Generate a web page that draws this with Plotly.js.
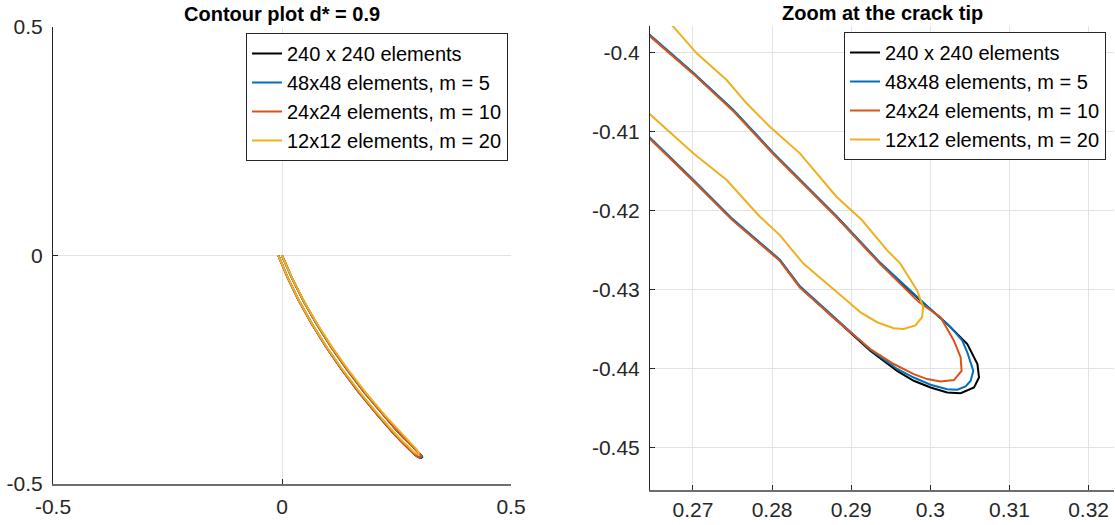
<!DOCTYPE html>
<html>
<head>
<meta charset="utf-8">
<script src="https://cdn.plot.ly/plotly-3.0.1.min.js"></script>
<style>
  html, body { margin: 0; padding: 0; background: #ffffff; }
  #chart { width: 1115px; height: 525px; }
</style>
</head>
<body>
<div id="chart"></div>
<script>
// ---- Data ----
const seriesNames = [
  '240 x 240 elements',
  '48x48 elements, m = 5',
  '24x24 elements, m = 10',
  '12x12 elements, m = 20'
];
const seriesColors = ['#000000', '#0072BD', '#D95319', '#EDB120'];

// 240 x 240 elements (reference contour)
const blackX = [0, 0.0220, 0.0473, 0.0758, 0.1074, 0.1423, 0.1804, 0.2217, 0.2480, 0.26457, 0.27000, 0.27505, 0.28010, 0.28818, 0.29361, 0.29875, 0.30213, 0.30467, 0.30595, 0.30615, 0.30552, 0.30383, 0.30213, 0.30003, 0.29790, 0.29580, 0.29241, 0.28775, 0.28352, 0.28098, 0.27505, 0.27000, 0.26457, 0.2446, 0.2094, 0.1684, 0.1308, 0.0964, 0.0653, 0.0375, 0.0130, -0.008];
const blackY = [0, -0.05, -0.10, -0.15, -0.20, -0.25, -0.30, -0.35, -0.38, -0.39791, -0.40263, -0.40732, -0.41276, -0.42086, -0.42668, -0.43143, -0.43439, -0.43694, -0.43947, -0.44118, -0.44244, -0.44316, -0.44308, -0.44244, -0.44159, -0.44033, -0.43778, -0.43354, -0.42972, -0.42633, -0.42124, -0.41618, -0.41090, -0.39, -0.35, -0.30, -0.25, -0.20, -0.15, -0.10, -0.05, 0];

// 48x48 elements, m = 5
const blueX = [0, 0.0220, 0.0473, 0.0758, 0.1074, 0.1423, 0.1804, 0.2217, 0.2480, 0.26457, 0.27000, 0.27505, 0.28010, 0.28818, 0.29361, 0.29875, 0.30256, 0.30404, 0.30467, 0.30543, 0.30510, 0.30446, 0.30341, 0.30213, 0.30003, 0.29790, 0.29580, 0.29241, 0.28775, 0.28352, 0.28098, 0.27505, 0.27000, 0.26457, 0.2446, 0.2094, 0.1684, 0.1308, 0.0964, 0.0653, 0.0375, 0.0130, -0.008];
const blueY = [0, -0.05, -0.10, -0.15, -0.20, -0.25, -0.30, -0.35, -0.38, -0.39783, -0.40255, -0.40724, -0.41268, -0.42078, -0.42660, -0.43135, -0.43481, -0.43651, -0.43799, -0.44033, -0.44159, -0.44231, -0.44273, -0.44266, -0.44210, -0.44118, -0.44010, -0.43765, -0.43346, -0.42964, -0.42625, -0.42116, -0.41610, -0.41082, -0.39, -0.35, -0.30, -0.25, -0.20, -0.15, -0.10, -0.05, 0];

// 24x24 elements, m = 10
const orangeX = [0, 0.0220, 0.0473, 0.0758, 0.1074, 0.1423, 0.1804, 0.2217, 0.2480, 0.26457, 0.27000, 0.27505, 0.28010, 0.28818, 0.29361, 0.29850, 0.30129, 0.30298, 0.30383, 0.30395, 0.30298, 0.30129, 0.29960, 0.29790, 0.29537, 0.29241, 0.28775, 0.28352, 0.28098, 0.27505, 0.27000, 0.26457, 0.2446, 0.2094, 0.1684, 0.1308, 0.0964, 0.0653, 0.0375, 0.0130, -0.008];
const orangeY = [0, -0.05, -0.10, -0.15, -0.20, -0.25, -0.30, -0.35, -0.38, -0.39799, -0.40271, -0.40740, -0.41284, -0.42094, -0.42676, -0.43160, -0.43354, -0.43651, -0.43863, -0.44033, -0.44151, -0.44168, -0.44138, -0.44075, -0.43947, -0.43757, -0.43362, -0.42980, -0.42641, -0.42132, -0.41626, -0.41098, -0.39, -0.35, -0.30, -0.25, -0.20, -0.15, -0.10, -0.05, 0];

// 12x12 elements, m = 20
const yellowX = [0, 0.0223, 0.0480, 0.0770, 0.1090, 0.1445, 0.1830, 0.2250, 0.2528, 0.26751, 0.27047, 0.27426, 0.27678, 0.27972, 0.28351, 0.28814, 0.29135, 0.29452, 0.29621, 0.29833, 0.29909, 0.29896, 0.29812, 0.29664, 0.29537, 0.29326, 0.29114, 0.28944, 0.28691, 0.28395, 0.28098, 0.27846, 0.27426, 0.27004, 0.26457, 0.2475, 0.2120, 0.1705, 0.1325, 0.0975, 0.0660, 0.0380, 0.0133, -0.008];
const yellowY = [0, -0.05, -0.10, -0.15, -0.20, -0.25, -0.30, -0.35, -0.38, -0.39677, -0.40014, -0.40352, -0.40647, -0.40943, -0.41280, -0.41829, -0.42124, -0.42506, -0.42676, -0.43015, -0.43227, -0.43354, -0.43459, -0.43503, -0.43494, -0.43418, -0.43290, -0.43142, -0.42930, -0.42676, -0.42315, -0.42082, -0.41618, -0.41280, -0.40786, -0.39, -0.35, -0.30, -0.25, -0.20, -0.15, -0.10, -0.05, 0];

// Tick labels
const leftTicks = [-0.5, 0, 0.5];
const leftTickText = ['-0.5', '0', '0.5'];
const rightXTicks = [0.27, 0.28, 0.29, 0.30, 0.31, 0.32];
const rightXTickText = ['0.27', '0.28', '0.29', '0.3', '0.31', '0.32'];
const rightYTicks = [-0.40, -0.41, -0.42, -0.43, -0.44, -0.45];
const rightYTickText = ['-0.4', '-0.41', '-0.42', '-0.43', '-0.44', '-0.45'];

const titles = ['Contour plot d* = 0.9', 'Zoom at the crack tip'];

// ---- Build traces ----
const xs = [blackX, blueX, orangeX, yellowX];
const ys = [blackY, blueY, orangeY, yellowY];
const FONT = 'Liberation Sans, Arial, Helvetica, sans-serif';
const traces = [];
for (let i = 0; i < 4; i++) {
  traces.push({
    type: 'scatter', mode: 'lines', x: xs[i], y: ys[i],
    xaxis: 'x', yaxis: 'y', name: seriesNames[i], legend: 'legend',
    line: { color: seriesColors[i], width: 2 }, hoverinfo: 'skip'
  });
}
for (let i = 0; i < 4; i++) {
  traces.push({
    type: 'scatter', mode: 'lines', x: xs[i], y: ys[i],
    xaxis: 'x2', yaxis: 'y2', name: seriesNames[i], legend: 'legend2',
    line: { color: seriesColors[i], width: 2 }, hoverinfo: 'skip'
  });
}

const W = 1115, H = 525;
function axisCommon() {
  return {
    showgrid: true, gridcolor: '#e3e3e3', gridwidth: 1,
    zeroline: false, showline: true, mirror: false,
    ticks: 'inside', ticklen: 5, tickwidth: 1, tickcolor: '#262626',
    tickfont: { family: FONT, size: 21, color: '#262626' },
    tickmode: 'array', fixedrange: true
  };
}
const legendCommon = {
  bgcolor: '#ffffff', bordercolor: '#262626', borderwidth: 1,
  font: { family: FONT, size: 20, color: '#000000' },
  xanchor: 'right', yanchor: 'top', tracegroupgap: 0, itemwidth: 30
};

const layout = {
  width: W, height: H,
  margin: { l: 0, r: 0, t: 0, b: 0 },
  paper_bgcolor: '#ffffff', plot_bgcolor: '#ffffff',
  showlegend: true,
  xaxis: Object.assign(axisCommon(), {
    domain: [53 / W, 511 / W], range: [-0.5, 0.5], anchor: 'y',
    tickvals: leftTicks, ticktext: leftTickText,
    linecolor: '#6e6e6e', linewidth: 2, ticklabelstandoff: 3
  }),
  yaxis: Object.assign(axisCommon(), {
    domain: [(H - 484) / H, (H - 27) / H], range: [-0.5, 0.5], anchor: 'x',
    tickvals: leftTicks, ticktext: leftTickText,
    linecolor: '#262626', linewidth: 1, ticklabelstandoff: 5
  }),
  xaxis2: Object.assign(axisCommon(), {
    domain: [650 / W, 1114 / W], range: [0.26457, 0.32321], anchor: 'y2',
    tickvals: rightXTicks, ticktext: rightXTickText,
    linecolor: '#6e6e6e', linewidth: 2, ticklabelstandoff: 0
  }),
  yaxis2: Object.assign(axisCommon(), {
    domain: [(H - 490) / H, (H - 26) / H], range: [-0.45542, -0.39668], anchor: 'x2',
    tickvals: rightYTicks, ticktext: rightYTickText,
    linecolor: '#262626', linewidth: 1, ticklabelstandoff: 5
  }),
  legend: Object.assign({}, legendCommon, { x: 508 / W, y: (H - 33) / H }),
  legend2: Object.assign({}, legendCommon, { x: 1106 / W, y: (H - 32) / H }),
  annotations: [
    { text: '<b>' + titles[0] + '</b>', xref: 'paper', yref: 'paper',
      x: 282 / W, y: (H - 14) / H, xanchor: 'center', yanchor: 'middle',
      showarrow: false, font: { family: FONT, size: 20, color: '#000000' } },
    { text: '<b>' + titles[1] + '</b>', xref: 'paper', yref: 'paper',
      x: 882 / W, y: (H - 13) / H, xanchor: 'center', yanchor: 'middle',
      showarrow: false, font: { family: FONT, size: 20, color: '#000000' } }
  ]
};

Plotly.newPlot('chart', traces, layout, { staticPlot: true, displayModeBar: false });
</script>
</body>
</html>
